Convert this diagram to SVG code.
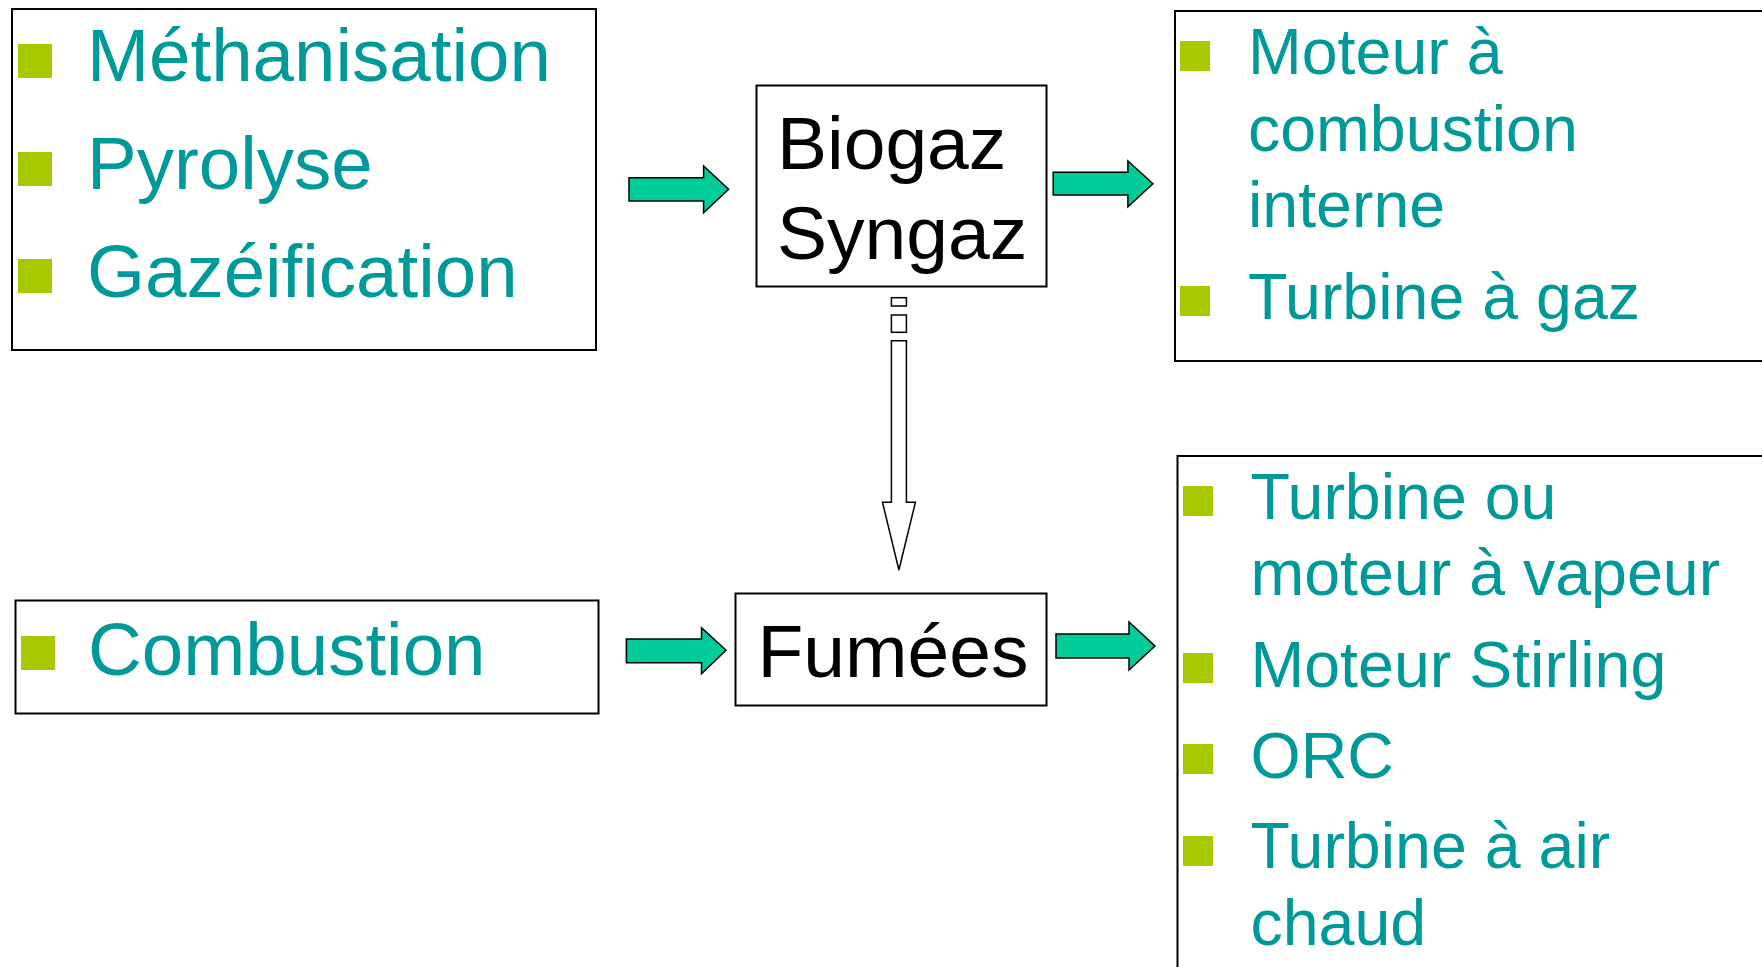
<svg xmlns="http://www.w3.org/2000/svg" width="1762" height="967" viewBox="0 0 1762 967">
<style>
.box{fill:#fff;stroke:#000;stroke-width:2}
.t{font-family:"Liberation Sans",Arial,sans-serif;fill:#009999}
.big{font-size:74.5px}
.med{font-size:64.5px}
.blk{font-family:"Liberation Sans",Arial,sans-serif;fill:#000;font-size:75px}
.bul{fill:#AAC800}
.ga{fill:#00CC99;stroke:#000;stroke-width:1.5;stroke-linejoin:miter}
.wa{fill:#fff;stroke:#000;stroke-width:1.5}
</style>
<rect width="1762" height="967" fill="#fff"/>
<g id="sources-gaz">
<rect class="box" x="12" y="9" width="584" height="341"/>
<rect class="bul" x="18" y="44" width="34" height="34"/>
<text class="t big" x="87" y="81">Méthanisation</text>
<rect class="bul" x="18" y="152" width="34" height="34"/>
<text class="t big" x="87" y="189">Pyrolyse</text>
<rect class="bul" x="18" y="259" width="34" height="34"/>
<text class="t big" x="87" y="297">Gazéification</text>
</g>
<g id="biogaz">
<rect class="box" x="756.5" y="85.5" width="290" height="201"/>
<text class="blk" x="777" y="169">Biogaz</text>
<text class="blk" x="777" y="259">Syngaz</text>
</g>
<g id="moteurs-gaz">
<rect class="box" x="1175" y="11" width="600" height="350"/>
<rect class="bul" x="1180" y="41" width="30" height="30"/>
<text class="t med" x="1248" y="74">Moteur à</text>
<text class="t med" x="1248" y="151">combustion</text>
<text class="t med" x="1248" y="227">interne</text>
<rect class="bul" x="1180" y="286" width="30" height="30"/>
<text class="t med" x="1248" y="319">Turbine à gaz</text>
</g>
<g id="combustion">
<rect class="box" x="15.5" y="600.5" width="583" height="113"/>
<rect class="bul" x="21" y="636" width="34" height="34"/>
<text class="t big" x="88" y="675">Combustion</text>
</g>
<g id="fumees">
<rect class="box" x="735.5" y="593.5" width="311" height="112"/>
<text class="blk" x="757.5" y="677">Fumées</text>
</g>
<g id="moteurs-fumees">
<rect class="box" x="1177.5" y="456" width="600" height="530"/>
<rect class="bul" x="1183" y="486" width="30" height="30"/>
<text class="t med" x="1250.5" y="519">Turbine ou</text>
<text class="t med" x="1250.5" y="595">moteur à vapeur</text>
<rect class="bul" x="1183" y="653" width="30" height="30"/>
<text class="t med" x="1250.5" y="687">Moteur Stirling</text>
<rect class="bul" x="1183" y="744" width="30" height="30"/>
<text class="t med" x="1250.5" y="778">ORC</text>
<rect class="bul" x="1183" y="836" width="30" height="30"/>
<text class="t med" x="1250.5" y="868">Turbine à air</text>
<text class="t med" x="1250.5" y="945">chaud</text>
</g>
<g id="connectors">
<path class="ga" d="M629,177.7 H703.6 V166 L728.6,189.3 L703.6,212.7 V201 H629 Z"/>
<path class="ga" d="M1053.2,172.3 H1127.9 V161 L1152.9,183.7 L1127.9,206.7 V195 H1053.2 Z"/>
<path class="ga" d="M626.4,639 H701.5 V627.7 L726,650.3 L701.5,673.7 V662.7 H626.4 Z"/>
<path class="ga" d="M1056,634 H1129 V622 L1155,646 L1129,670 V658 H1056 Z"/>
<rect class="wa" x="891.4" y="297.7" width="15" height="8.3"/>
<rect class="wa" x="891.4" y="315" width="15" height="17.3"/>
<path class="wa" d="M891.4,340.7 H906.4 V502.3 H915.4 L898.9,570 L882.5,502.3 H891.4 Z"/>
</g>
</svg>
